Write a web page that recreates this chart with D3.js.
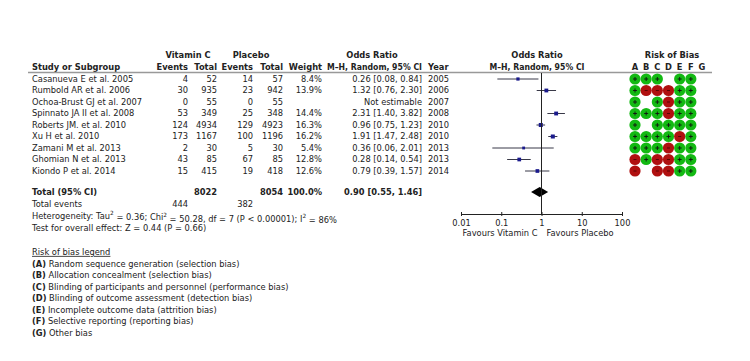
<!DOCTYPE html>
<html><head><meta charset="utf-8">
<script src="https://cdn.jsdelivr.net/npm/d3@7"></script>
<style>
body{margin:0;background:#fff}
text{font-family:"DejaVu Sans",sans-serif;fill:#222}
</style></head><body>
<svg id="c" width="750" height="361"></svg>
<script>
const studies = ["Casanueva E et al. 2005","Rumbold AR et al. 2006","Ochoa-Brust GJ et al. 2007","Spinnato JA II et al. 2008","Roberts JM. et al. 2010","Xu H et al. 2010","Zamani M et al. 2013","Ghomian N et al. 2013","Kiondo P et al. 2014"];
const vitEvents = [4,30,0,53,124,173,2,43,15];
const vitTotal = [52,935,55,349,4934,1167,30,85,415];
const plaEvents = [14,23,0,25,129,100,5,67,19];
const plaTotal = [57,942,55,348,4923,1196,30,85,418];
const weights = [8.4,13.9,null,14.4,16.3,16.2,5.4,12.8,12.6];
const orVal = [0.26,1.32,null,2.31,0.96,1.91,0.36,0.28,0.79];
const orLo = [0.08,0.76,null,1.40,0.75,1.47,0.06,0.14,0.39];
const orHi = [0.84,2.30,null,3.82,1.23,2.48,2.01,0.54,1.57];
const years = [2005,2006,2007,2008,2010,2010,2013,2013,2014];
const total = {vit:8022, pla:8054, weight:"100.0%", or:0.90, lo:0.55, hi:1.46, vitEv:444, plaEv:382};
const axisTicks = [0.01,0.1,1,10,100];
const biasCols = ["A","B","C","D","E","F","G"];
// "+" low risk, "-" high risk, "" unclear (blank)
const bias = [
 ["+","+","+","","+","+",""],
 ["+","-","-","-","+","+",""],
 ["+","","+","-","+","+",""],
 ["+","+","+","-","+","+",""],
 ["+","","+","+","+","+",""],
 ["+","+","+","+","-","+",""],
 ["+","+","+","-","+","+",""],
 ["-","+","-","-","+","+",""],
 ["-","","-","-","+","+",""]
];
const legendItems = [["A","Random sequence generation (selection bias)"],["B","Allocation concealment (selection bias)"],["C","Blinding of participants and personnel (performance bias)"],["D","Blinding of outcome assessment (detection bias)"],["E","Incomplete outcome data (attrition bias)"],["F","Selective reporting (reporting bias)"],["G","Other bias"]];

const svg = d3.select("#c");
const FS = 8.3;
const rowY = d3.scaleLinear().domain([0,8]).range([79,171]);
const x = d3.scaleLog().domain([0.01,100]).range([461,622]);
const fmt = d3.format(".2f");

function t(xp, yp, s, anchor="start", bold=false, g=svg){
  return g.append("text").attr("x",xp).attr("y",yp).attr("dy","0.35em")
   .attr("text-anchor",anchor).attr("font-size",FS).attr("font-weight",bold?"bold":"normal").text(s);
}
// headers
t(188,55,"Vitamin C","middle",true);
t(251,55,"Placebo","middle",true);
t(372,55,"Odds Ratio","middle",true);
t(537,55,"Odds Ratio","middle",true);
t(672,55,"Risk of Bias","middle",true);
t(32,67,"Study or Subgroup","start",true);
t(188,67,"Events","end",true);
t(217,67,"Total","end",true);
t(253,67,"Events","end",true);
t(283,67,"Total","end",true);
t(322,67,"Weight","end",true);
t(422,67,"M–H, Random, 95% CI","end",true).attr("textLength",95).attr("lengthAdjust","spacingAndGlyphs");
t(428,67,"Year","start",true);
t(537,67,"M–H, Random, 95% CI","middle",true).attr("textLength",95).attr("lengthAdjust","spacingAndGlyphs");
const colX = d3.scalePoint().domain(biasCols).range([635,702]);
biasCols.forEach(c=>t(colX(c),67,c,"middle",true));
svg.append("line").attr("x1",28).attr("x2",712).attr("y1",72.5).attr("y2",72.5).attr("stroke","#999").attr("stroke-width",1.5);

// rows
studies.forEach((s,i)=>{
  const y = rowY(i);
  t(32,y,s);
  t(188,y,vitEvents[i],"end");
  t(217,y,vitTotal[i],"end");
  t(253,y,plaEvents[i],"end");
  t(283,y,plaTotal[i],"end");
  if(weights[i]!=null) t(322,y,weights[i].toFixed(1)+"%","end");
  t(422,y, orVal[i]==null ? "Not estimable" : `${fmt(orVal[i])} [${fmt(orLo[i])}, ${fmt(orHi[i])}]`,"end");
  t(428,y,years[i]);
  if(orVal[i]!=null){
    svg.append("line").attr("x1",x(orLo[i])).attr("x2",x(orHi[i])).attr("y1",y).attr("y2",y).attr("stroke","#223").attr("stroke-width",0.9);
    const sz = 1.2+Math.sqrt(weights[i])*0.7;
    svg.append("rect").attr("x",x(orVal[i])-sz/2).attr("y",y-sz/2).attr("width",sz).attr("height",sz).attr("fill","#1a1a8c");
  }
  bias[i].forEach((b,j)=>{
    if(!b) return;
    const cx = colX(biasCols[j]);
    svg.append("circle").attr("cx",cx).attr("cy",y).attr("r",5.6).attr("fill",b==="+"?"#13b913":"#b01010");
    if(b==="+"){
      svg.append("path").attr("d",`M${cx-2},${y}H${cx+2}M${cx},${y-2}V${y+2}`).attr("stroke","#111").attr("stroke-width",0.9);
    } else {
      svg.append("path").attr("d",`M${cx-1.5},${y}H${cx+1.5}`).attr("stroke","#400").attr("stroke-width",0.8);
    }
  });
});

// totals
const ty = 192;
t(32,ty,"Total (95% CI)","start",true);
t(217,ty,total.vit,"end",true);
t(283,ty,total.pla,"end",true);
t(322,ty,total.weight,"end",true);
t(422,ty,`${fmt(total.or)} [${fmt(total.lo)}, ${fmt(total.hi)}]`,"end",true);
svg.append("path").attr("d",`M${x(total.lo)},${ty}L${x(total.or)},${ty-5}L${x(total.hi)},${ty}L${x(total.or)},${ty+5}Z`).attr("fill","#000");
t(32,204,"Total events");
t(188,204,total.vitEv,"end");
t(253,204,total.plaEv,"end");
const het = t(32,216,"");
het.append("tspan").text("Heterogeneity: Tau");
het.append("tspan").attr("font-size",FS*0.7).attr("dy","-0.6em").text("2");
het.append("tspan").attr("dy","0.6em").text(" = 0.36; Chi");
het.append("tspan").attr("font-size",FS*0.7).attr("dy","-0.6em").text("2");
het.append("tspan").attr("dy","0.6em").text(" = 50.28, df = 7 (P < 0.00001); I");
het.append("tspan").attr("font-size",FS*0.7).attr("dy","-0.6em").text("2");
het.append("tspan").attr("dy","0.6em").text(" = 86%");
t(32,228,"Test for overall effect: Z = 0.44 (P = 0.66)");

// vertical line at 1
svg.append("line").attr("x1",x(1)).attr("x2",x(1)).attr("y1",73).attr("y2",214).attr("stroke","#222").attr("stroke-width",1);
// axis
const ax = svg.append("g").attr("transform","translate(0,214)")
  .call(d3.axisBottom(x).tickValues(axisTicks).tickFormat(d=>String(d)).tickSize(2).tickSizeOuter(0));
ax.select(".domain").attr("stroke","#222");
ax.selectAll(".tick line").attr("y1",-2).attr("y2",2).attr("stroke","#222");
ax.selectAll(".tick text").attr("font-size",FS).attr("font-family","DejaVu Sans").attr("fill","#222").attr("dy","0.35em").attr("y",9);
t(x(1)-4,233,"Favours Vitamin C","end");
t(x(1)+5,233,"Favours Placebo","start");

// legend
t(32,252,"Risk of bias legend").attr("text-decoration","underline");
legendItems.forEach((d,i)=>{
  const tx = t(32,264+i*11.5,"");
  tx.append("tspan").attr("font-weight","bold").text(`(${d[0]})`);
  tx.append("tspan").text(" "+d[1]);
});
</script></body></html>
